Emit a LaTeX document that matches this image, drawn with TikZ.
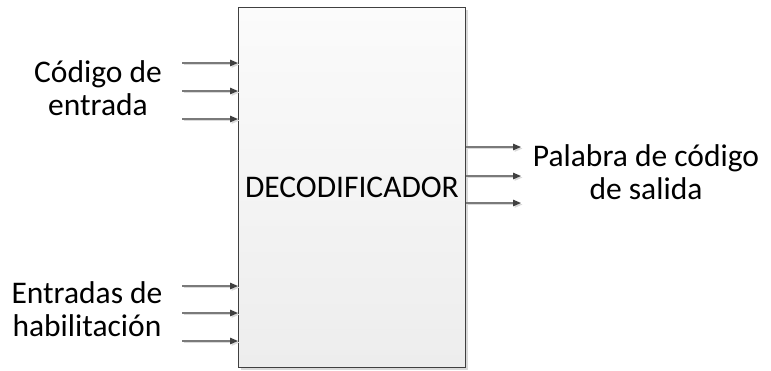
\documentclass[tikz,border=0pt]{standalone}
\usepackage{fontspec}
\setmainfont{Carlito}
\usetikzlibrary{arrows.meta}
\definecolor{edge}{HTML}{404040}
\definecolor{wire}{HTML}{7A7A7A}
\definecolor{wireshade}{HTML}{DADADA}
\definecolor{boxtop}{HTML}{FBFBFB}
\definecolor{boxbot}{HTML}{EDEDED}
\tikzset{
  x=1pt, y=-1pt,
  label text/.style={font=\fontsize{31.5}{32.5}\selectfont, align=center, inner sep=0pt},
  sig/.style={draw=wire, line width=1.3pt,
    -{Triangle[length=8pt,width=6.5pt,color=edge]}},
  sigshade/.style={draw=wireshade, line width=1.3pt,
    -{Triangle[length=8pt,width=6.5pt,color=wireshade]}},
  blockbox/.style={draw=edge, line width=0.9pt, top color=boxtop, bottom color=boxbot,
    minimum width=227pt, minimum height=360pt, inner sep=0pt, anchor=north west,
    font=\fontsize{31.5}{33}\selectfont}
}
\begin{document}
\begin{tikzpicture}
\useasboundingbox (0,0) rectangle (771,370);
% soft shadow under the block
\fill[wireshade] (240.5,9.5) rectangle (467.5,369.5);
\node[blockbox] (dec) at (238,7) {DECODIFICADOR};

% free ends of the input and output lines
\coordinate (c1) at (182,63);
\coordinate (c2) at (182,91);
\coordinate (c3) at (182,119);
\coordinate (h1) at (182,286);
\coordinate (h2) at (182,313);
\coordinate (h3) at (182,341);
\coordinate (o1) at (521,147);
\coordinate (o2) at (521,176);
\coordinate (o3) at (521,203);

% shaded copies of the lines
\foreach \p in {c1,c2,c3,h1,h2,h3}
  \draw[sigshade] ([shift={(1.5,1.5)}]\p) -- ([shift={(1.5,1.5)}]\p -| dec.west);
\foreach \p in {o1,o2,o3}
  \draw[sigshade] ([shift={(1.5,1.5)}]\p -| dec.east) -- ([shift={(1.5,1.5)}]\p);

% signal lines
\foreach \p in {c1,c2,c3,h1,h2,h3}
  \draw[sig] (\p) -- (\p -| dec.west);
\foreach \p in {o1,o2,o3}
  \draw[sig] (\p -| dec.east) -- (\p);

% labels
\node[label text] (lc) at (98,88) {Código de\\entrada};
\node[label text] (lh) at (87,309) {Entradas de\\habilitación};
\node[label text] (lo) at (646,172) {Palabra de código\\de salida};
\end{tikzpicture}
\end{document}
